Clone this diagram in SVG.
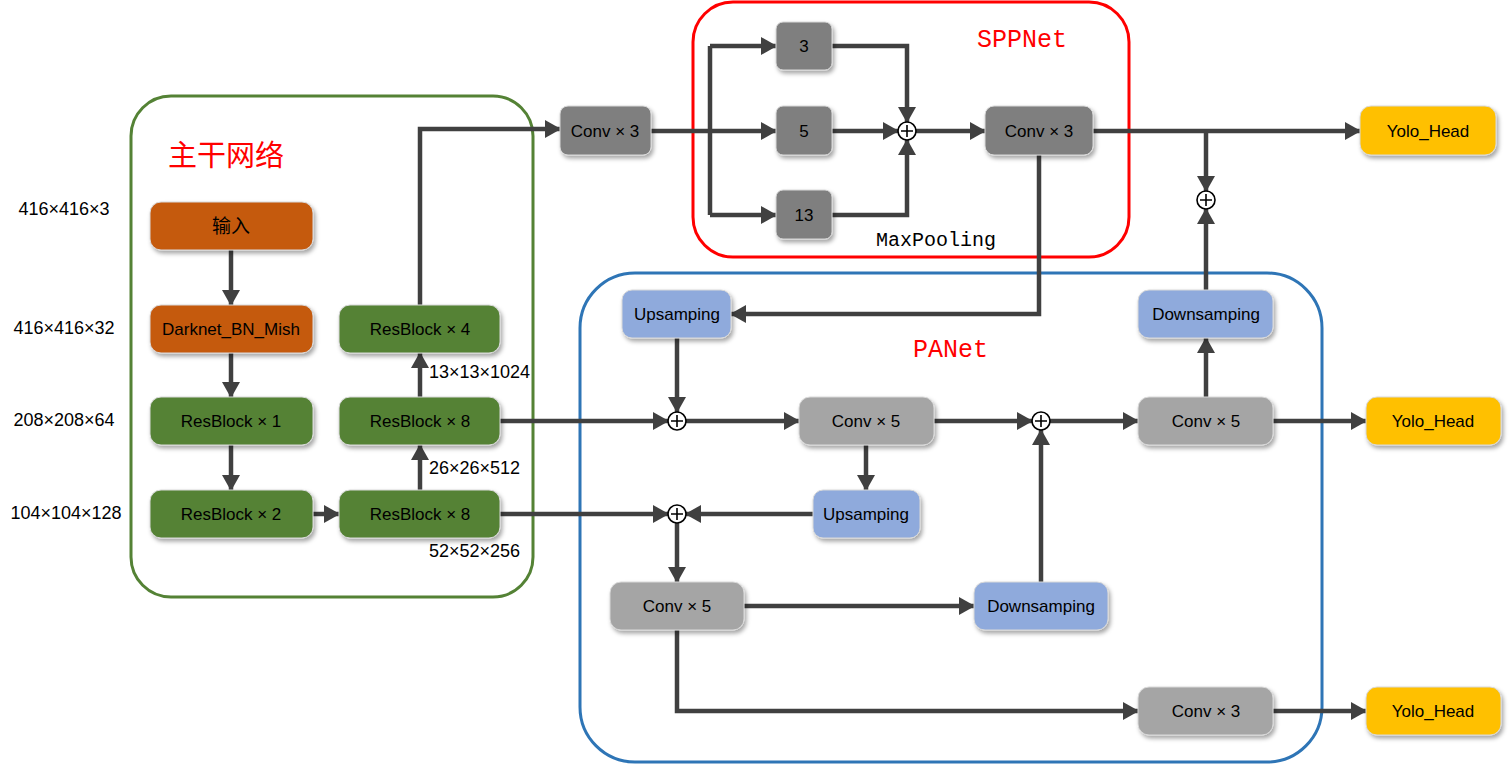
<svg xmlns="http://www.w3.org/2000/svg" width="1512" height="765" viewBox="0 0 1512 765">
<style>
text{font-family:"Liberation Sans",Arial,sans-serif;fill:#000}
.t{font-size:17px;text-anchor:middle}
.d{font-size:18px}
.box{stroke:#d9d9d9;stroke-width:1;filter:url(#sh)}
.org{fill:#C55A11}
.grn{fill:#548235}
.dg{fill:#7F7F7F}
.lg{fill:#A5A5A5}
.blu{fill:#8FAADC}
.yel{fill:#FFC000}
.c{fill:none;stroke:#404040;stroke-width:4.5;stroke-linejoin:miter}
.a{marker-end:url(#ar)}
.plus circle{fill:#fff;stroke:#000;stroke-width:1.6}
.plus path{stroke:#000;stroke-width:1.6;fill:none}
.grp{fill:none;stroke-width:3}
</style>
<defs>
<filter id="sh" x="-20%" y="-20%" width="150%" height="160%">
<feDropShadow dx="2" dy="3" stdDeviation="2" flood-color="#000" flood-opacity="0.35"/>
</filter>
<marker id="ar" markerUnits="userSpaceOnUse" markerWidth="16" markerHeight="18" refX="15" refY="9" orient="auto">
<path d="M0,0 L16,9 L0,18 z" fill="#404040"/>
</marker>
</defs>

<g id="groups">
<rect class="grp" x="131" y="96" width="402" height="501" rx="40" stroke="#548235"/>
<rect class="grp" x="693" y="2" width="436" height="255" rx="40" stroke="#FF0000"/>
<rect class="grp" x="580" y="273" width="742" height="489" rx="55" stroke="#2E75B6"/>
<text x="168" y="166" font-size="29" style="font-family:'Noto Sans CJK SC',sans-serif;fill:#FF0000">主干网络</text>
<text x="977" y="47" font-size="25" style="font-family:'Liberation Mono',monospace;fill:#FF0000">SPPNet</text>
<text x="913" y="357" font-size="25" style="font-family:'Liberation Mono',monospace;fill:#FF0000">PANet</text>
<text x="876" y="246" font-size="20" style="font-family:'Liberation Mono',monospace">MaxPooling</text>
</g>

<g id="labels">
<text class="d" x="64" y="215" text-anchor="middle">416×416×3</text>
<text class="d" x="64" y="334" text-anchor="middle">416×416×32</text>
<text class="d" x="64" y="426" text-anchor="middle">208×208×64</text>
<text class="d" x="66" y="519" text-anchor="middle">104×104×128</text>
<text class="d" x="429" y="378">13×13×1024</text>
<text class="d" x="429" y="474">26×26×512</text>
<text class="d" x="429" y="557">52×52×256</text>
</g>

<g id="connectors">
<path class="c a" d="M231,250 V305"/>
<path class="c a" d="M231,353 V397"/>
<path class="c a" d="M231,445 V490"/>
<path class="c a" d="M313,514 H339"/>
<path class="c a" d="M420,490 V445"/>
<path class="c a" d="M420,397 V353"/>
<path class="c a" d="M420,305 V129 H560"/>
<path class="c" d="M651,131 H710"/>
<path class="c" d="M710,46 V215"/>
<path class="c a" d="M710,46 H776"/>
<path class="c a" d="M710,131 H776"/>
<path class="c a" d="M710,215 H776"/>
<path class="c a" d="M832,46 H907 V122"/>
<path class="c a" d="M832,131 H898"/>
<path class="c a" d="M832,215 H907 V140"/>
<path class="c a" d="M916,131 H985"/>
<path class="c a" d="M1093,131 H1360"/>
<path class="c a" d="M1206,131 V191"/>
<path class="c a" d="M1039,155 V314 H731"/>
<path class="c a" d="M677,338 V412"/>
<path class="c a" d="M500,421 H668"/>
<path class="c a" d="M686,421 H799"/>
<path class="c a" d="M934,421 H1032"/>
<path class="c a" d="M1050,421 H1138"/>
<path class="c a" d="M1273,421 H1366"/>
<path class="c a" d="M1206,397 V338"/>
<path class="c a" d="M1206,290 V209"/>
<path class="c a" d="M866,445 V490"/>
<path class="c a" d="M813,514 H686"/>
<path class="c a" d="M500,514 H668"/>
<path class="c a" d="M677,523 V582"/>
<path class="c a" d="M744,606 H974"/>
<path class="c a" d="M1041,582 V430"/>
<path class="c a" d="M677,630 V711 H1138"/>
<path class="c a" d="M1273,711 H1366"/>
</g>

<g id="plus-nodes">
<g id="plus-spp" class="plus"><circle cx="907" cy="131" r="9"/><path d="M901,131 H913 M907,125 V137"/></g>
<g id="plus-top" class="plus"><circle cx="1206" cy="200" r="9"/><path d="M1200,200 H1212 M1206,194 V206"/></g>
<g id="plus-mid-left" class="plus"><circle cx="677" cy="421" r="9"/><path d="M671,421 H683 M677,415 V427"/></g>
<g id="plus-mid-right" class="plus"><circle cx="1041" cy="421" r="9"/><path d="M1035,421 H1047 M1041,415 V427"/></g>
<g id="plus-low" class="plus"><circle cx="677" cy="514" r="9"/><path d="M671,514 H683 M677,508 V520"/></g>
</g>

<g id="n-input"><rect class="box org" x="150" y="202" width="163" height="48" rx="11"/><text class="t" x="231" y="233" style="font-family:'Noto Sans CJK SC',sans-serif;font-size:19px">输入</text></g>
<g id="n-darknet"><rect class="box org" x="150" y="305" width="163" height="48" rx="11"/><text class="t" x="231" y="335">Darknet_BN_Mish</text></g>
<g id="n-res1"><rect class="box grn" x="150" y="397" width="163" height="48" rx="11"/><text class="t" x="231" y="427">ResBlock × 1</text></g>
<g id="n-res2"><rect class="box grn" x="150" y="490" width="163" height="48" rx="11"/><text class="t" x="231" y="520">ResBlock × 2</text></g>
<g id="n-res4"><rect class="box grn" x="339" y="305" width="161" height="48" rx="11"/><text class="t" x="420" y="335">ResBlock × 4</text></g>
<g id="n-res8a"><rect class="box grn" x="339" y="397" width="161" height="48" rx="11"/><text class="t" x="420" y="427">ResBlock × 8</text></g>
<g id="n-res8b"><rect class="box grn" x="339" y="490" width="161" height="48" rx="11"/><text class="t" x="420" y="520">ResBlock × 8</text></g>

<g id="n-conv3a"><rect class="box dg" x="560" y="106" width="91" height="49" rx="8"/><text class="t" x="605" y="137">Conv × 3</text></g>
<g id="n-mp3"><rect class="box dg" x="776" y="22" width="56" height="48" rx="7"/><text class="t" x="804" y="52">3</text></g>
<g id="n-mp5"><rect class="box dg" x="776" y="106" width="56" height="49" rx="7"/><text class="t" x="804" y="137">5</text></g>
<g id="n-mp13"><rect class="box dg" x="776" y="190" width="56" height="49" rx="7"/><text class="t" x="804" y="221">13</text></g>
<g id="n-conv3b"><rect class="box dg" x="985" y="106" width="108" height="49" rx="9"/><text class="t" x="1039" y="137">Conv × 3</text></g>

<g id="n-up1"><rect class="box blu" x="622" y="290" width="109" height="48" rx="10"/><text class="t" x="677" y="320">Upsamping</text></g>
<g id="n-conv5a"><rect class="box lg" x="799" y="397" width="135" height="48" rx="11"/><text class="t" x="866" y="427">Conv × 5</text></g>
<g id="n-up2"><rect class="box blu" x="813" y="490" width="107" height="48" rx="10"/><text class="t" x="866" y="520">Upsamping</text></g>
<g id="n-conv5b"><rect class="box lg" x="610" y="582" width="134" height="48" rx="11"/><text class="t" x="677" y="612">Conv × 5</text></g>
<g id="n-down1"><rect class="box blu" x="974" y="582" width="134" height="48" rx="11"/><text class="t" x="1041" y="612">Downsamping</text></g>
<g id="n-conv5c"><rect class="box lg" x="1138" y="397" width="135" height="48" rx="11"/><text class="t" x="1206" y="427">Conv × 5</text></g>
<g id="n-down2"><rect class="box blu" x="1138" y="290" width="135" height="48" rx="11"/><text class="t" x="1206" y="320">Downsamping</text></g>
<g id="n-conv3c"><rect class="box lg" x="1138" y="687" width="135" height="48" rx="11"/><text class="t" x="1206" y="717">Conv × 3</text></g>

<g id="n-yolo1"><rect class="box yel" x="1360" y="106" width="136" height="49" rx="11"/><text class="t" x="1428" y="137">Yolo_Head</text></g>
<g id="n-yolo2"><rect class="box yel" x="1366" y="397" width="135" height="48" rx="11"/><text class="t" x="1433" y="427">Yolo_Head</text></g>
<g id="n-yolo3"><rect class="box yel" x="1366" y="687" width="135" height="48" rx="11"/><text class="t" x="1433" y="717">Yolo_Head</text></g>
</svg>
